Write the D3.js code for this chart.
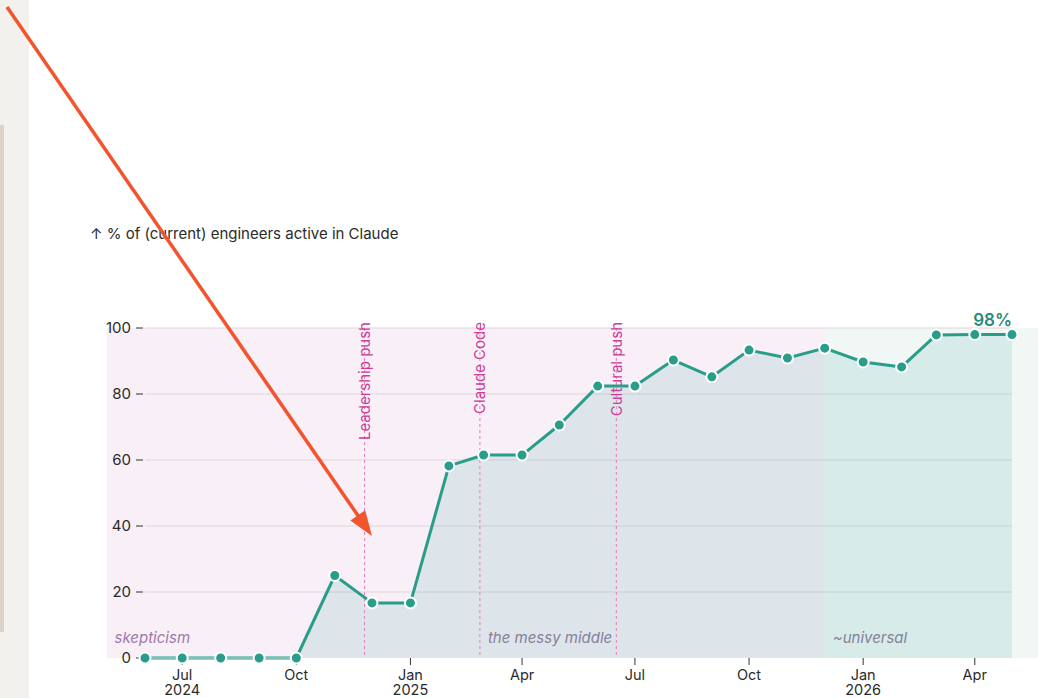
<!DOCTYPE html>
<html>
<head>
<meta charset="utf-8">
<script src="https://cdn.jsdelivr.net/npm/d3@7"></script>
<style>
  html, body { margin: 0; padding: 0; background: #fff; }
  svg { display: block; font-family: Inter, "Noto Sans", sans-serif; }
</style>
</head>
<body>
<svg id="chart" width="1038" height="698"></svg>
<script>
// ---- data ----
const months = ["2024-06-01","2024-07-01","2024-08-01","2024-09-01","2024-10-01","2024-11-01","2024-12-01",
  "2025-01-01","2025-02-01","2025-03-01","2025-04-01","2025-05-01","2025-06-01","2025-07-01","2025-08-01",
  "2025-09-01","2025-10-01","2025-11-01","2025-12-01","2026-01-01","2026-02-01","2026-03-01","2026-04-01","2026-05-01"];
const activePct = [0,0,0,0,0,25,16.7,16.7,58.2,61.5,61.5,70.6,82.4,82.4,90.3,85.2,93.3,90.9,93.9,89.7,88.2,97.9,98,98];

const phaseNames = ["skepticism","the messy middle","~universal"];
const phaseStart = ["2024-05-01","2025-02-26","2025-12-01"];
const phaseEnd   = ["2025-02-26","2025-12-01","2026-06-01"];

const eventNames = ["Leadership push","Claude Code","Cultural push"];
const eventDates = ["2024-11-25","2025-02-26","2025-06-16"];

const yTicks = [0,20,40,60,80,100];
const xTickDates = ["2024-07-01","2024-10-01","2025-01-01","2025-04-01","2025-07-01","2025-10-01","2026-01-01","2026-04-01"];
const xTickLabels = [["Jul","2024"],["Oct"],["Jan","2025"],["Apr"],["Jul"],["Oct"],["Jan","2026"],["Apr"]];

const yTitle = "↑ % of (current) engineers active in Claude";
const lastLabel = "98%";
const arrowTip = {date: "2024-12-01", value: 37};

// ---- setup ----
const svg = d3.select("#chart");
const W = 1038, H = 698;
const parse = d => new Date(d + "T00:00:00Z");
const data = months.map((m, i) => ({date: parse(m), value: activePct[i]}));

const x = d3.scaleUtc().domain([parse(months[0]), parse(months[months.length-1])]).range([145, 1012]);
const y = d3.scaleLinear().domain([0, 100]).range([658, 328]);

const teal = "#2a9d8a";
const FS = 15;

// left sidebar strip (page chrome)
svg.append("rect").attr("x", 0).attr("y", 0).attr("width", 29).attr("height", H).attr("fill", "#f2f1ed");
svg.append("rect").attr("x", 0).attr("y", 125).attr("width", 4).attr("height", 507).attr("fill", "#dcd2c8");

// phase backgrounds
const phaseFill = ["#f8eff7", "#f8eff7", "#f0f7f5"];
svg.append("g").selectAll("rect").data(phaseNames).join("rect")
  .attr("x", (d, i) => x(parse(phaseStart[i])))
  .attr("width", (d, i) => x(parse(phaseEnd[i])) - x(parse(phaseStart[i])))
  .attr("y", y(100)).attr("height", y(0) - y(100))
  .attr("fill", (d, i) => phaseFill[i]);

// gridlines
svg.append("g").selectAll("line").data(yTicks.filter(t => t > 0)).join("line")
  .attr("x1", x.range()[0]).attr("x2", x.range()[1])
  .attr("y1", d => y(d)).attr("y2", d => y(d))
  .attr("stroke", "#ddd6de").attr("stroke-width", 1);

// area
svg.append("path").datum(data)
  .attr("d", d3.area().x(d => x(d.date)).y0(y(0)).y1(d => y(d.value)))
  .attr("fill", teal).attr("fill-opacity", 0.12);

// phase labels
const phaseColor = ["#9b7bab", "#857f9b", "#857f9b"];
svg.append("g").selectAll("text").data(phaseNames).join("text")
  .attr("x", (d, i) => x(parse(phaseStart[i])) + 8)
  .attr("y", y(0) - 15)
  .attr("font-size", FS).attr("font-style", "italic")
  .attr("fill", (d, i) => phaseColor[i])
  .text(d => d);

// event lines
const ev = svg.append("g");
ev.selectAll("line").data(eventNames).join("line")
  .attr("x1", (d, i) => x(parse(eventDates[i]))).attr("x2", (d, i) => x(parse(eventDates[i])))
  .attr("y1", y(100)).attr("y2", y(0))
  .attr("stroke", "#dc82b8").attr("stroke-width", 1).attr("stroke-dasharray", "3,3");
ev.selectAll("text").data(eventNames).join("text")
  .attr("transform", (d, i) => `translate(${x(parse(eventDates[i]))},${y(100) - 6}) rotate(-90)`)
  .attr("text-anchor", "end").attr("dy", "0.35em")
  .attr("font-size", FS).attr("fill", "#cc3e97")
  .text(d => d);

// y axis
const ya = svg.append("g");
ya.selectAll("line").data(yTicks).join("line")
  .attr("x1", 136).attr("x2", 143).attr("y1", d => y(d)).attr("y2", d => y(d))
  .attr("stroke", "#333").attr("stroke-width", 1);
ya.selectAll("text").data(yTicks).join("text")
  .attr("x", 131).attr("y", d => y(d)).attr("dy", "0.35em")
  .attr("text-anchor", "end").attr("font-size", FS).attr("fill", "#2b2b2b")
  .text(d => d);
svg.append("text").attr("x", 90).attr("y", 239)
  .attr("font-size", FS).attr("fill", "#2b2b2b").text(yTitle);

// x axis
const xa = svg.append("g");
xa.selectAll("line").data(xTickDates).join("line")
  .attr("x1", d => x(parse(d))).attr("x2", d => x(parse(d)))
  .attr("y1", y(0)).attr("y2", y(0) + 7)
  .attr("stroke", "#333").attr("stroke-width", 1);
// first line (month) and second line (year) as separate texts
xa.selectAll("text.m").data(xTickDates).join("text").attr("class", "m")
  .attr("x", d => x(parse(d))).attr("y", y(0) + 22)
  .attr("text-anchor", "middle").attr("font-size", 14.5).attr("fill", "#2b2b2b")
  .text((d, i) => xTickLabels[i][0]);
xa.selectAll("text.yr").data(xTickDates.filter((d, i) => xTickLabels[i].length > 1)).join("text").attr("class", "yr")
  .attr("x", d => x(parse(d))).attr("y", y(0) + 37)
  .attr("text-anchor", "middle").attr("font-size", 14.5).attr("fill", "#2b2b2b")
  .text(d => xTickLabels[xTickDates.indexOf(d)][1]);

// line
svg.append("path").datum(data)
  .attr("d", d3.line().x(d => x(d.date)).y(d => y(d.value)))
  .attr("fill", "none").attr("stroke", teal).attr("stroke-width", 3)
  .attr("stroke-linejoin", "round");

// zero-segment highlight (lighter where line rests on baseline)
const zeroPairs = d3.pairs(data).filter(([a, b]) => a.value === 0 && b.value === 0);
svg.append("g").selectAll("line").data(zeroPairs).join("line")
  .attr("x1", d => x(d[0].date)).attr("x2", d => x(d[1].date))
  .attr("y1", y(0)).attr("y2", y(0))
  .attr("stroke", "#ffffff").attr("stroke-opacity", 0.5).attr("stroke-width", 1.4);

// points
svg.append("g").selectAll("circle").data(data).join("circle")
  .attr("cx", d => x(d.date)).attr("cy", d => y(d.value)).attr("r", 5.5)
  .attr("fill", teal).attr("stroke", "#fff").attr("stroke-width", 2);

// last value label
const last = data[data.length - 1];
svg.append("text").attr("x", x(last.date)).attr("y", y(last.value) - 9)
  .attr("text-anchor", "end").attr("font-size", 17).attr("font-weight", 600)
  .attr("fill", "#2a8a78").text(lastLabel);

// annotation arrow
const tx = x(parse(arrowTip.date)), ty = y(arrowTip.value);
const sx = 7, sy = 7;
const dx = tx - sx, dy = ty - sy, len = Math.hypot(dx, dy);
const ux = dx / len, uy = dy / len, headL = 25, headW = 9;
const bx = tx - ux * headL, by = ty - uy * headL;
svg.append("line").attr("x1", sx).attr("y1", sy).attr("x2", bx + ux * 2).attr("y2", by + uy * 2)
  .attr("stroke", "#f2542d").attr("stroke-width", 3.5);
svg.append("path")
  .attr("d", `M${tx},${ty}L${bx - uy * headW},${by + ux * headW}L${bx + uy * headW},${by - ux * headW}Z`)
  .attr("fill", "#f2542d");
</script>
</body>
</html>
